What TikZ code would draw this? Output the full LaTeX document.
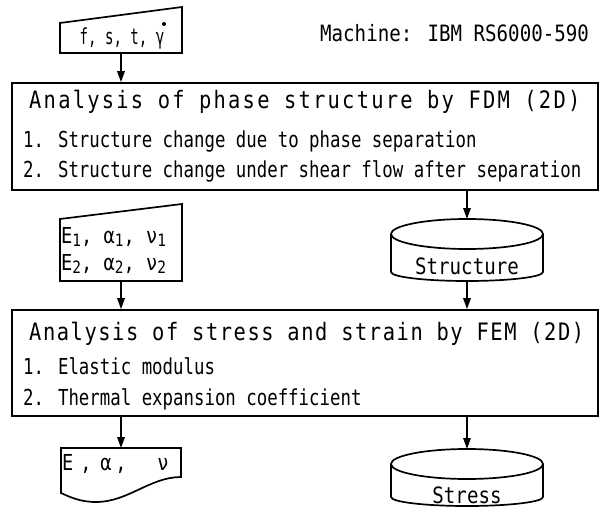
\documentclass[tikz,border=0pt]{standalone}
\usepackage{fontspec}
\usetikzlibrary{arrows.meta}
\newfontfamily\jm{DejaVu Sans Mono}[FakeStretch=0.85]
\newfontfamily\jmi{DejaVu Sans Mono}[FakeStretch=0.79]
\newfontfamily\jmn{DejaVu Sans Mono}[FakeStretch=0.64]
\newfontfamily\jmt{DejaVu Sans Mono}[FakeStretch=0.85,LetterSpace=9.4]
\newfontfamily\jmu{DejaVu Sans Mono}[FakeStretch=0.85,LetterSpace=6.5]
\newcommand\sbx[1]{\raisebox{-0.15em}{\fontsize{17}{17}\selectfont #1}}
\tikzset{
  shp/.style={line width=1.7pt, line join=miter},
  arr/.style={line width=1.6pt, -{Triangle[length=11pt,width=7.5pt]}},
  box/.style={draw, line width=1.7pt, rectangle, inner sep=0pt},
  ttl/.style={anchor=base west, inner sep=0pt, font=\jmt\fontsize{24}{26}\selectfont},
  ttlb/.style={anchor=base west, inner sep=0pt, font=\jmu\fontsize{24}{26}\selectfont},
  itm/.style={anchor=base west, inner sep=0pt, font=\jmi\fontsize{22}{24}\selectfont},
  lbl/.style={anchor=base, inner sep=0pt, font=\jm\fontsize{22.5}{24}\selectfont},
  inp/.style={anchor=base west, inner sep=0pt, font=\jm\fontsize{22}{24}\selectfont},
}
\begin{document}
\begin{tikzpicture}[x=1pt,y=-1pt]
\useasboundingbox (0,0) rectangle (605,508);

% input 1
\draw[shp] (60,23) -- (182,7) -- (182,53) -- (60,53) -- cycle;
\node[anchor=base, inner sep=0pt, font=\jmn\fontsize{22}{24}\selectfont] (in1) at (122,45) {f, s, t, γ};
\fill (164,24) circle[radius=2];
\coordinate (in1b) at (121,53);

\node[lbl, anchor=base west] (mach) at (320,42) {Machine: IBM RS6000-590};

% box 1
\node[box, minimum width=586pt, minimum height=107pt] (fdm) at (305,136.5) {};
\node[ttl] (fdmt) at (29,109) {Analysis of phase structure by FDM (2D)};
\node[itm] (fdm1) at (23,147) {1. Structure change due to phase separation};
\node[itm] (fdm2) at (23,178) {2. Structure change under shear flow after separation};

% input 2
\draw[shp] (60,219) -- (182,204) -- (182,281) -- (60,281) -- cycle;
\node[inp] (in2a) at (61,243) {E\sbx{1}, α\sbx{1}, ν\sbx{1}};
\node[inp] (in2b) at (61,270) {E\sbx{2}, α\sbx{2}, ν\sbx{2}};
\coordinate (in2b0) at (121,281);

% cylinder Structure
\draw[shp] (467,234) ellipse [x radius=76, y radius=15];
\draw[shp] (391,234) -- (391,272) arc[start angle=180, end angle=0, x radius=76, y radius=9] -- (543,234);
\node[lbl] (st) at (467,274) {Structure};
\coordinate (stt) at (467,219);
\coordinate (stb) at (467,281);

% box 2
\node[box, minimum width=586pt, minimum height=106pt] (fem) at (305,363) {};
\node[ttlb] (femt) at (29,340) {Analysis of stress and strain by FEM (2D)};
\node[itm] (fem1) at (23,374) {1. Elastic modulus};
\node[itm] (fem2) at (23,405) {2. Thermal expansion coefficient};

% document output
\draw[shp] (61,448) -- (181,448) -- (181,477) .. controls (150,477) and (128,502) .. (96,502) .. controls (80,502) and (70,497) .. (61,493) -- cycle;
\node[inp] (out) at (62,470) {E\hspace{7pt},\hspace{8.7pt}α\hspace{3.7pt},\hspace{30.7pt}ν};
\coordinate (outt) at (121,448);

% cylinder Stress
\draw[shp] (467,464) ellipse [x radius=76, y radius=15];
\draw[shp] (391,464) -- (391,497) arc[start angle=180, end angle=0, x radius=76, y radius=9] -- (543,464);
\node[lbl] (sr) at (467,503) {Stress};
\coordinate (srt) at (467,449);

% connectors
\draw[arr] (in1b) -- (fdm.north -| in1b);
\draw[arr] (fdm.south -| stt) -- (stt);
\draw[arr] (in2b0) -- (fem.north -| in2b0);
\draw[arr] (stb) -- (fem.north -| stb);
\draw[arr] (fem.south -| outt) -- (outt);
\draw[arr] (fem.south -| srt) -- (srt);
\end{tikzpicture}
\end{document}
